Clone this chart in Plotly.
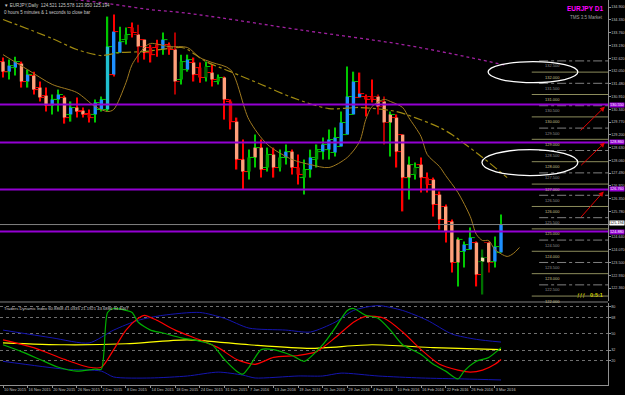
import plotly.graph_objects as go

# ---------------- data ----------------
date_labels = ["10 Nov 2015", "16 Nov 2015", "20 Nov 2015", "26 Nov 2015", "2 Dec 2015",
               "8 Dec 2015", "14 Dec 2015", "18 Dec 2015", "24 Dec 2015", "31 Dec 2015",
               "7 Jan 2016", "13 Jan 2016", "19 Jan 2016", "25 Jan 2016", "29 Jan 2016",
               "4 Feb 2016", "10 Feb 2016", "16 Feb 2016", "22 Feb 2016", "26 Feb 2016",
               "3 Mar 2016"]
date_label_idx = [0, 4, 8, 12, 16, 20, 24, 28, 32, 36, 40, 44, 48, 52, 56, 60, 64, 68, 72, 76, 80]

opens = [132.47, 132.02, 132.20, 132.38, 131.58, 131.85, 131.31, 130.95, 130.51, 130.78,
         130.87, 130.11, 130.42, 130.28, 130.15, 130.11, 130.33, 130.33, 131.89, 132.87,
         133.45, 133.99, 133.68, 133.45, 133.10, 133.10, 133.01, 133.23, 133.01, 131.67,
         132.11, 132.43, 132.20, 131.76, 131.98, 131.58, 131.76, 130.69, 129.79, 128.10,
         127.56, 128.19, 128.63, 127.74, 128.32, 127.74, 128.19, 128.45, 127.74, 127.29,
         127.65, 128.10, 128.45, 128.54, 128.41, 128.68, 129.21, 130.11, 130.87, 130.91,
         130.91, 130.91, 130.69, 129.75, 129.97, 129.21, 127.29, 127.43, 127.87, 127.29,
         127.20, 126.53, 126.00, 125.33, 123.50, 123.99, 124.08, 124.39, 123.54, 124.39,
         123.54, 123.95]
highs = [132.65, 132.56, 132.69, 132.47, 132.11, 132.02, 131.58, 131.31, 131.00, 131.22,
         130.95, 130.69, 130.87, 130.42, 130.33, 130.78, 130.91, 134.48, 134.57, 134.03,
         133.99, 134.21, 134.12, 133.45, 133.23, 133.45, 133.77, 133.32, 133.77, 132.78,
         132.78, 132.65, 132.43, 132.47, 132.34, 131.89, 131.80, 130.78, 129.97, 128.99,
         128.54, 129.21, 128.99, 128.63, 128.63, 128.54, 128.77, 128.54, 128.32, 128.10,
         128.54, 128.77, 129.08, 129.44, 129.53, 130.24, 132.25, 132.02, 131.98, 131.00,
         131.67, 131.00, 130.91, 130.24, 130.11, 129.21, 128.23, 127.96, 128.19, 127.52,
         127.29, 126.67, 126.09, 125.42, 124.61, 124.44, 125.06, 124.44, 124.08, 124.44,
         124.66, 125.64]
lows = [131.76, 131.67, 131.85, 131.31, 131.31, 131.00, 130.69, 130.24, 130.11, 130.24,
        129.70, 129.79, 129.97, 129.97, 129.75, 129.75, 130.24, 130.24, 131.80, 132.87,
        133.23, 133.54, 132.43, 132.56, 132.43, 132.69, 132.78, 132.78, 131.00, 131.45,
        132.02, 131.58, 131.53, 131.58, 131.36, 131.45, 129.88, 129.44, 127.65, 126.76,
        127.20, 127.74, 127.29, 127.56, 127.29, 127.56, 127.87, 127.43, 126.98, 126.53,
        127.29, 127.74, 128.10, 128.10, 128.23, 128.68, 129.21, 130.11, 130.87, 130.02,
        130.64, 130.11, 128.77, 128.23, 127.74, 125.78, 126.31, 127.20, 126.62, 126.62,
        125.55, 124.97, 124.39, 123.05, 122.43, 123.28, 124.08, 122.43, 122.07, 123.05,
        123.28, 123.95]
closes = [132.02, 132.29, 132.47, 131.58, 131.89, 131.22, 130.87, 130.51, 130.78, 131.00,
          129.97, 130.42, 130.24, 130.11, 129.97, 130.64, 130.78, 133.14, 133.81, 133.36,
          133.68, 133.77, 133.14, 132.87, 132.78, 133.23, 133.45, 133.01, 131.58, 132.47,
          132.56, 131.89, 131.76, 132.25, 131.67, 131.76, 130.78, 129.79, 128.10, 127.56,
          128.19, 128.63, 127.65, 128.32, 127.74, 128.19, 128.45, 127.74, 127.43, 127.65,
          128.19, 128.54, 128.77, 128.99, 129.08, 129.75, 130.91, 131.58, 131.04, 130.78,
          130.78, 130.46, 129.75, 130.11, 128.45, 127.29, 127.87, 127.74, 127.29, 126.98,
          126.09, 125.42, 124.88, 123.50, 124.53, 124.30, 124.61, 122.96, 123.72, 123.50,
          124.21, 125.194]
# colour classes read per bar (wick / body)
wick_codes = "rggrgrrrgg" "rgrrrgggrg" "grdrrrgrdg" "grrgrgrrrr" "ggrgrggrrg" \
             "ggggggggrr" "rddgrrggrr" "rrrrgggrkd" "gg"
body_codes = "sbbsbsssbb" "sbssrbbcbb" "grssrrbrsg" "bsrksgsrss" "gssgsgbsrg" \
             "bgbbbbbbbr" "rssssssksr" "sssssbbsys" "bb"

fast_ma_idx = [0, 4, 8, 12, 15, 17, 18, 20, 21, 23, 24, 27, 30, 32, 34, 37, 40, 43, 47, 50,
               53, 56, 58, 59, 60, 62, 63, 65, 66, 68, 69, 71, 72, 74, 76, 77, 78, 79, 80, 82, 83, 84]
fast_ma = [132.78, 132.11, 131.45, 131.09, 130.46, 130.24, 130.33, 131.53, 132.34, 133.10,
           133.28, 133.14, 133.10, 132.65, 132.43, 132.11, 129.88, 128.77, 128.10, 127.87,
           127.74, 128.19, 128.90, 129.88, 130.46, 130.78, 130.69, 130.42, 129.97, 129.12,
           128.32, 127.78, 127.38, 126.62, 125.55, 124.75, 124.48, 124.48, 124.08, 123.77,
           123.90, 124.17]
slow_ma_idx = [0, 8, 12, 16, 19, 23, 29, 30, 33, 37, 42, 47, 53, 58, 64, 67, 71, 73, 78, 82]
slow_ma = [134.35, 133.50, 133.01, 132.74, 132.87, 132.92, 133.10, 133.01, 132.47, 132.02,
           131.45, 130.87, 130.37, 130.42, 130.24, 129.97, 129.53, 129.21, 128.19, 127.29]
long_ma_idx = [0, 16, 24, 29, 35, 48, 65, 76, 82]
long_ma = [135.60, 135.10, 134.79, 134.66, 134.44, 133.90, 133.23, 132.65, 132.29]

purple_levels = [130.55, 128.86, 126.76, 124.88]
bid_price = 125.194
whole_levels = [122, 123, 124, 125, 126, 127, 128, 129, 130, 131, 132]
half_levels = [122.5, 123.5, 124.5, 125.5, 126.5, 127.5, 128.5, 129.5, 130.5, 131.5, 132.5]
price_tick_labels = ["122.360", "122.930", "123.500", "124.070", "124.640", "125.210", "125.780",
                     "126.350", "126.920", "127.490", "128.060", "128.630", "129.200", "129.770",
                     "130.340", "130.910", "131.480", "132.050", "132.620", "133.190", "133.760",
                     "134.330", "134.900"]

ellipses = [(78.9, 93.5, 131.53, 132.47), (77.9, 93.5, 127.38, 128.54)]
arrows = [(93.7, 129.33, 97.9, 130.46), (93.8, 127.78, 97.9, 128.86), (93.8, 125.46, 97.7, 126.67)]

# Traders Dynamic Index
tdi_green_idx = [0, 3, 6, 9, 12, 15, 16, 17, 18, 20, 21, 22, 24, 26, 29, 31, 34, 36, 38, 39, 40,
                 42, 44, 47, 49, 52, 54, 56, 57, 59, 61, 63, 65, 68, 70, 72, 74, 75, 77, 79, 81]
tdi_green = [38.0, 30.4, 21.7, 13.0, 8.7, 10.9, 10.9, 73.9, 78.3, 76.1, 73.9, 63.0, 54.3, 51.1,
             45.7, 43.5, 38.0, 21.7, 8.7, 5.4, 13.0, 32.6, 32.6, 26.1, 19.6, 38.0, 56.5, 76.1,
             78.3, 70.7, 67.4, 54.3, 38.0, 27.2, 16.3, 8.7, 0.0, 8.7, 19.6, 23.9, 34.8]
tdi_red_idx = [0, 5, 10, 14, 16, 18, 20, 22, 23, 25, 28, 32, 35, 38, 41, 44, 48, 51, 54, 57, 59,
               62, 65, 68, 71, 74, 76, 78, 80, 81]
tdi_red = [43.5, 34.8, 21.7, 13.0, 13.0, 32.6, 54.3, 67.4, 70.7, 65.2, 54.3, 43.5, 34.8, 21.7,
           16.3, 23.9, 26.1, 30.4, 45.7, 63.0, 69.6, 67.4, 52.2, 32.6, 16.3, 9.8, 7.6, 9.8, 16.3, 21.7]
tdi_yellow_idx = [0, 10, 20, 30, 40, 50, 60, 70, 81]
tdi_yellow = [40.2, 38.0, 39.1, 43.5, 38.0, 34.0, 38.0, 34.8, 32.6]
tdi_up_idx = [0, 8, 14, 18, 22, 26, 32, 36, 40, 46, 50, 54, 57, 61, 65, 69, 73, 77, 81]
tdi_up = [54.3, 45.7, 40.0, 54.3, 65.2, 70.7, 73.9, 67.4, 56.5, 54.3, 52.2, 63.0, 76.1, 81.5,
          76.1, 65.2, 50.0, 44.0, 41.0]
tdi_dn_idx = [0, 10, 16, 18, 24, 30, 35, 39, 41, 48, 52, 55, 61, 68, 75, 81]
tdi_dn = [19.6, 10.9, 8.7, 2.2, 1.1, 3.3, 7.6, 4.3, 1.1, 3.3, 3.3, 6.5, 3.3, 1.1, 0.0, -1.1]
tdi_levels = [20, 32, 50, 68, 80]
tdi_title = "Traders Dynamic Index 60.8868 41.0335 21.1921 43.6886 34.8467"

# ---------------- styling ----------------
FONT = "Liberation Sans"
wick_map = {"g": "#00c800", "r": "#ff0000", "d": "#b00000", "k": "#007000"}
body_map = {"b": "#1e90ff", "c": "#20c0d0", "s": "#ffa07a", "r": "#dc0000", "g": "#00a000",
            "k": "#006400", "y": "#eee8aa"}
n = len(opens)
idx = list(range(n))
wick_cols = [wick_map[c] for c in wick_codes]
body_cols = [body_map[c] for c in body_codes]

fig = go.Figure()

# wicks
fig.add_trace(go.Bar(x=idx, y=[h - l for h, l in zip(highs, lows)], base=lows, width=0.22,
                     marker=dict(color=wick_cols, line=dict(width=0)), hoverinfo="skip",
                     xaxis="x", yaxis="y"))
# bodies
fig.add_trace(go.Bar(x=idx, y=[max(abs(c - o), 0.04) for o, c in zip(opens, closes)],
                     base=[min(o, c) for o, c in zip(opens, closes)], width=0.55,
                     marker=dict(color=body_cols, line=dict(width=0)), hoverinfo="skip",
                     xaxis="x", yaxis="y"))
# open / close ticks
fig.add_trace(go.Scatter(x=[i - 0.4 for i in idx], y=opens, mode="markers",
                         marker=dict(symbol="line-ew", size=3, line=dict(width=1, color=wick_cols)),
                         hoverinfo="skip", xaxis="x", yaxis="y"))
fig.add_trace(go.Scatter(x=[i + 0.4 for i in idx], y=closes, mode="markers",
                         marker=dict(symbol="line-ew", size=3, line=dict(width=1, color=wick_cols)),
                         hoverinfo="skip", xaxis="x", yaxis="y"))

# moving averages
fig.add_trace(go.Scatter(x=long_ma_idx, y=long_ma, mode="lines",
                         line=dict(color="#a020a0", width=1.3, dash="dot", shape="spline"),
                         xaxis="x", yaxis="y"))
fig.add_trace(go.Scatter(x=slow_ma_idx, y=slow_ma, mode="lines",
                         line=dict(color="#a08a10", width=1.2, dash="dashdot", shape="spline", smoothing=0.8),
                         xaxis="x", yaxis="y"))
fig.add_trace(go.Scatter(x=fast_ma_idx, y=fast_ma, mode="lines",
                         line=dict(color="#a07a20", width=1, shape="spline", smoothing=0.8),
                         xaxis="x", yaxis="y"))

# TDI
for xs, ys, col, w in [(tdi_up_idx, tdi_up, "#1515b0", 1), (tdi_dn_idx, tdi_dn, "#1515b0", 1),
                       (tdi_yellow_idx, tdi_yellow, "#ffff00", 1.2),
                       (tdi_red_idx, tdi_red, "#ff0000", 1.2),
                       (tdi_green_idx, tdi_green, "#00b000", 1.2)]:
    fig.add_trace(go.Scatter(x=xs, y=ys, mode="lines",
                             line=dict(color=col, width=w, shape="spline", smoothing=0.7),
                             xaxis="x2", yaxis="y2"))

shapes = []
annotations = []
# level lines on right
for lv in whole_levels:
    shapes.append(dict(type="line", xref="x", yref="y", x0=86, x1=98.5, y0=lv, y1=lv,
                       line=dict(color="#8c8c5c", width=1)))
    annotations.append(dict(xref="x", yref="y", x=87.8, y=lv, text="%.3f" % lv, showarrow=False,
                            xanchor="left", yanchor="top", yshift=-0.5,
                            font=dict(family=FONT, size=4, color="#c8c090")))
for lv in half_levels:
    shapes.append(dict(type="line", xref="x", yref="y", x0=87.2, x1=98.5, y0=lv, y1=lv,
                       line=dict(color="#808080", width=1, dash="dashdot")))
    annotations.append(dict(xref="x", yref="y", x=87.8, y=lv, text="%.3f" % lv, showarrow=False,
                            xanchor="left", yanchor="top", yshift=-0.5,
                            font=dict(family=FONT, size=4, color="#909090")))
# bid line
shapes.append(dict(type="line", xref="paper", yref="y", x0=0, x1=1, y0=bid_price, y1=bid_price,
                   line=dict(color="#808080", width=1)))
# purple lines
for lv in purple_levels:
    shapes.append(dict(type="line", xref="paper", yref="y", x0=0, x1=1, y0=lv, y1=lv,
                       line=dict(color="#9400d3", width=2)))
    annotations.append(dict(xref="paper", yref="y", x=1, y=lv, text="%.3f" % lv, showarrow=False,
                            xanchor="left", yanchor="middle", bgcolor="#9400d3", borderpad=0,
                            xshift=1, font=dict(family=FONT, size=3.8, color="#ffffff")))
annotations.append(dict(xref="paper", yref="y", x=1, y=bid_price, text="%.3f" % bid_price,
                        showarrow=False, xanchor="left", yanchor="middle", bgcolor="#ffffff",
                        borderpad=0, yshift=1.5, xshift=1,
                        font=dict(family=FONT, size=3.8, color="#000000")))
# ellipses
for x0, x1, y0, y1 in ellipses:
    shapes.append(dict(type="circle", xref="x", yref="y", x0=x0, x1=x1, y0=y0, y1=y1,
                       line=dict(color="#ffffff", width=1.3)))
# arrows
for tx, ty, hx, hy in arrows:
    annotations.append(dict(xref="x", yref="y", axref="x", ayref="y", x=hx, y=hy, ax=tx, ay=ty,
                            text="", showarrow=True, arrowhead=2, arrowsize=1, arrowwidth=1,
                            arrowcolor="#e00000"))
# panel separator
shapes.append(dict(type="line", xref="paper", yref="paper", x0=0, x1=1, y0=0.2156, y1=0.2156,
                   line=dict(color="#808080", width=1)))

# texts
annotations += [
    dict(xref="paper", yref="paper", x=0.003, y=1, yshift=-1, xanchor="left", yanchor="top",
         showarrow=False, text="▼ EURJPY,Daily  124.521 125.578 123.950 125.194",
         font=dict(family=FONT, size=4.5, color="#c8c8c8")),
    dict(xref="paper", yref="paper", x=0.003, y=1, yshift=-8, xanchor="left", yanchor="top",
         showarrow=False, text="0 hours 5 minutes & 1 seconds to close bar",
         font=dict(family=FONT, size=4.5, color="#c8c8c8")),
    dict(xref="paper", yref="paper", x=0.995, y=1, yshift=-3, xanchor="right", yanchor="top",
         showarrow=False, text="<b>EURJPY D1</b>",
         font=dict(family=FONT, size=6.5, color="#ff00ff")),
    dict(xref="paper", yref="paper", x=0.995, y=1, yshift=-13, xanchor="right", yanchor="top",
         showarrow=False, text="TMS 3.5 Market",
         font=dict(family=FONT, size=4.5, color="#a0a0a0")),
    dict(xref="paper", yref="paper", x=0.003, y=0.213, yshift=-1, xanchor="left", yanchor="top",
         showarrow=False, text=tdi_title, font=dict(family=FONT, size=4.2, color="#c8c8c8")),
    dict(xref="paper", yref="paper", x=0.946, y=0.2182, yshift=1, xanchor="left", yanchor="bottom",
         showarrow=False, text="ƒƒƒ", font=dict(family=FONT, size=5, color="#d0d000")),
    dict(xref="paper", yref="paper", x=0.967, y=0.2182, yshift=1, xanchor="left", yanchor="bottom",
         showarrow=False, text="<b>0:5:1</b>", font=dict(family=FONT, size=5.5, color="#d0d000")),
]

xr = [-0.49, 98.4]
fig.update_layout(
    width=625, height=395, margin=dict(l=0, r=17, t=0, b=10, autoexpand=False),
    paper_bgcolor="#000000", plot_bgcolor="#000000", showlegend=False, barmode="overlay",
    shapes=shapes, annotations=annotations,
    xaxis=dict(domain=[0, 1], range=xr, anchor="y", showticklabels=False, showgrid=False,
               zeroline=False, fixedrange=True, automargin=False),
    yaxis=dict(domain=[0.2182, 1], range=[121.78, 135.22], side="right", anchor="x",
               tickvals=[float(t) for t in price_tick_labels], ticktext=price_tick_labels,
               tickfont=dict(family=FONT, size=3.7, color="#c0c0c0"), showgrid=False,
               zeroline=False, showline=True, linecolor="#909090", linewidth=1,
               ticks="outside", ticklen=1.5, tickcolor="#909090", automargin=False),
    xaxis2=dict(domain=[0, 1], range=xr, anchor="y2", matches="x", showgrid=False, zeroline=False,
                tickvals=date_label_idx, ticktext=date_labels, ticklabelposition="outside right",
                tickangle=0, automargin=False,
                tickfont=dict(family=FONT, size=3.9, color="#c0c0c0"), showline=True,
                linecolor="#909090", linewidth=1, ticks="outside", ticklen=2, tickcolor="#909090"),
    yaxis2=dict(domain=[0, 0.213], range=[-6.7, 84.4], side="right", anchor="x2",
                tickvals=tdi_levels, ticktext=[str(v) for v in tdi_levels], automargin=False,
                tickfont=dict(family=FONT, size=3.7, color="#c0c0c0"), showgrid=True,
                gridcolor="#707070", griddash="dot", gridwidth=1, zeroline=False, showline=True,
                linecolor="#909090", linewidth=1, ticks="outside", ticklen=1.5, tickcolor="#909090"),
)

fig.write_html("out.html")
